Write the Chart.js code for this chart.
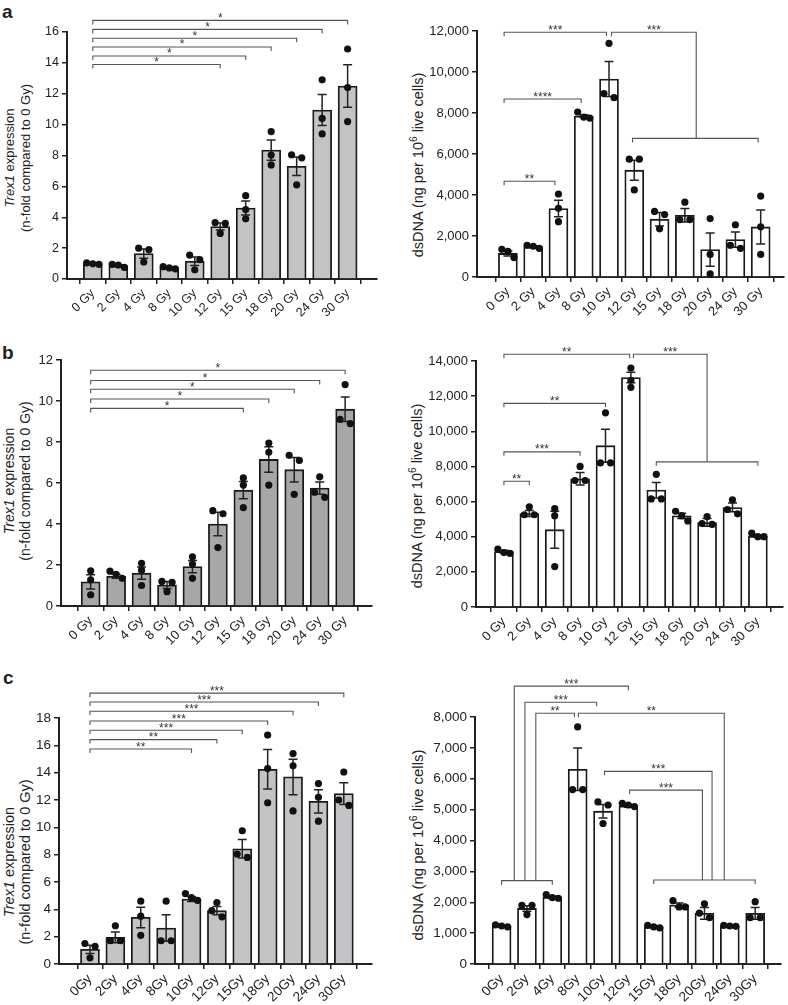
<!DOCTYPE html>
<html>
<head>
<meta charset="utf-8">
<script src="https://cdn.jsdelivr.net/npm/chart.js@4.4.1/dist/chart.umd.min.js"></script>
<style>
  body { margin: 0; background: #fff; width: 788px; height: 1005px; overflow: hidden; position: relative;
         font-family: "Liberation Sans", Arial, sans-serif; color: #222; }
  canvas { position: absolute; }
  .ytitle { position: absolute; white-space: nowrap; text-align: center;
            transform: translate(-50%, -50%) rotate(-90deg); }
  .panel { position: absolute; font-weight: bold; font-size: 19px; line-height: 19px; }
</style>
</head>
<body>
<div class="panel" style="left:2px;top:2px">a</div>
<div class="panel" style="left:2px;top:343px">b</div>
<div class="panel" style="left:3px;top:668px">c</div>

<div class="ytitle" style="left:17px;top:158px;font-size:13px;line-height:15.5px"><i>Trex1</i> expression<br>(n-fold compared to 0 Gy)</div>
<div class="ytitle" style="left:417px;top:165px;font-size:14.5px">dsDNA (ng per 10<sup style="font-size:70%">6</sup> live cells)</div>
<div class="ytitle" style="left:17px;top:481px;font-size:14px;line-height:15.5px"><i>Trex1</i> expression<br>(n-fold compared to 0 Gy)</div>
<div class="ytitle" style="left:416px;top:496px;font-size:14.5px">dsDNA (ng per 10<sup style="font-size:70%">6</sup> live cells)</div>
<div class="ytitle" style="left:17px;top:862px;font-size:14.5px;line-height:16px"><i>Trex1</i> expression<br>(n-fold compared to 0 Gy)</div>
<div class="ytitle" style="left:416px;top:845px;font-size:15px">dsDNA (ng per 10<sup style="font-size:70%">6</sup> live cells)</div>

<script>
// ----------------------------------------
// Data
// ----------------------------------------
const dosesAB = ['0 Gy', '2 Gy', '4 Gy', '8 Gy', '10 Gy', '12 Gy', '15 Gy', '18 Gy', '20 Gy', '24 Gy', '30 Gy'];
const dosesC = ['0Gy', '2Gy', '4Gy', '8Gy', '10Gy', '12Gy', '15Gy', '18Gy', '20Gy', '24Gy', '30Gy'];

// panel a
const trexA = [1.0, 0.86, 1.65, 0.72, 1.15, 3.4, 4.6, 8.35, 7.3, 10.95, 12.5];
const trexASem = [0.04, 0.07, 0.3, 0.05, 0.27, 0.22, 0.45, 0.65, 0.6, 1.0, 1.38];
const trexADots = [[1.05, 0.98, 0.95], [0.95, 0.9, 0.75], [2.0, 1.9, 1.1], [0.8, 0.72, 0.65], [1.55, 1.25, 0.6],
  [3.65, 3.6, 2.95], [5.4, 4.5, 3.9], [9.55, 8.03, 7.39], [8.05, 7.85, 6.1], [12.9, 10.4, 9.4], [14.9, 12.4, 10.2]];
const dnaA = [1150, 1480, 3340, 7850, 9660, 5210, 2820, 3010, 1335, 1824, 2443];
const dnaASem = [120, 50, 400, 60, 850, 490, 330, 330, 810, 370, 830];
const dnaADots = [[1350, 1250, 950], [1550, 1500, 1400], [4050, 3350, 2700], [8050, 7800, 7750], [11400, 8950, 8750],
  [5750, 5750, 4250], [3200, 3050, 2350], [3650, 2800, 2800], [2850, 1100, 150], [2550, 1550, 1400], [3950, 2450, 1100]];

// panel b
const trexB = [1.18, 1.45, 1.6, 1.02, 1.92, 4.0, 5.65, 7.15, 6.65, 5.75, 9.6];
const trexBSem = [0.35, 0.1, 0.3, 0.17, 0.3, 0.57, 0.42, 0.62, 0.6, 0.3, 0.6];
const trexBDots = [[1.72, 1.27, 0.55], [1.7, 1.55, 1.35], [2.08, 1.75, 1.0], [1.2, 1.15, 0.7], [2.4, 2.05, 1.35],
  [4.65, 4.5, 2.85], [6.25, 5.9, 4.8], [7.95, 7.5, 5.9], [7.35, 7.1, 5.45], [6.3, 5.55, 5.3], [10.8, 9.1, 8.9]];
const dnaB = [3150, 5320, 4400, 7300, 9180, 13060, 6650, 5190, 4810, 5665, 4030];
const dnaBSem = [80, 170, 1050, 350, 940, 300, 440, 150, 220, 250, 60];
const dnaBDots = [[3300, 3100, 3050], [5700, 5250, 5250], [5600, 5200, 2300], [8000, 7200, 7200], [11050, 8200, 8200],
  [13600, 12900, 12500], [7550, 6150, 6150], [5450, 5200, 4900], [5150, 4750, 4700], [6100, 5550, 5300], [4200, 4000, 4000]];

// panel c
const trexC = [1.07, 1.95, 3.41, 2.63, 4.75, 3.9, 8.43, 14.25, 13.69, 11.9, 12.47];
const trexCSem = [0.3, 0.4, 0.75, 0.97, 0.17, 0.3, 0.68, 1.45, 1.3, 0.85, 0.8];
const trexCDots = [[1.5, 1.3, 0.45], [2.8, 1.7, 1.7], [4.6, 3.5, 2.1], [4.6, 1.7, 1.7], [5.15, 4.85, 4.65],
  [4.5, 3.9, 3.45], [9.75, 8.05, 7.8], [16.75, 14.3, 11.8], [15.4, 14.5, 11.2], [13.2, 12.2, 10.45], [14.05, 12.0, 11.6]];
const dnaC = [1230, 1800, 2160, 6307, 4950, 5120, 1207, 1908, 1640, 1229, 1640];
const dnaCSem = [25, 90, 40, 690, 220, 40, 30, 70, 190, 15, 190];
const dnaCDots = [[1270, 1230, 1200], [1900, 1900, 1600], [2250, 2150, 2130], [7680, 5650, 5650], [5250, 5150, 4550],
  [5200, 5150, 5100], [1250, 1200, 1170], [2050, 1850, 1850], [1950, 1650, 1500], [1250, 1230, 1220], [2020, 1500, 1500]];

// ----------------------------------------
// Significance brackets (x = dose index, y = value)
// ----------------------------------------
const span = (a, b, y, s) => ({ p: [[a, y], [b, y]], t: [1, 1], s });

const trexABrackets = [
  span(0, 5, 13.89, '*'), span(0, 6, 14.45, '*'), span(0, 7, 15.03, '*'),
  span(0, 8, 15.6, '*'), span(0, 9, 16.17, '*'), span(0, 10, 16.75, '*')
];
const dnaABrackets = [
  span(-0.15, 3.9, 11940, '***'),
  { p: [[4.1, 11940], [7.45, 11940], [7.45, 6760]], t: [1, 0], s: '***' },
  span(4.93, 9.9, 6760, ''),
  span(-0.15, 2.9, 8680, '****'),
  span(-0.15, 1.86, 4670, '**')
];
const trexBBrackets = [
  span(0, 6, 9.64, '*'), span(0, 7, 10.1, '*'), span(0, 8, 10.57, '*'),
  span(0, 9, 11.0, '*'), span(0, 10, 11.5, '*')
];
const dnaBBrackets = [
  span(0, 4.95, 14380, '**'),
  { p: [[5.1, 14380], [8, 14380], [8, 8260]], t: [1, 0], s: '***' },
  span(6, 10, 8260, ''),
  span(0, 4, 11590, '**'),
  span(0, 3, 8830, '***'),
  span(0, 1, 7160, '**')
];
const trexCBrackets = [
  span(0, 4, 15.73, '**'), span(0, 5, 16.42, '**'), span(0, 6, 17.1, '***'),
  span(0, 7, 17.78, '***'), span(0, 8, 18.49, '***'), span(0, 9, 19.17, '***'), span(0, 10, 19.82, '***')
];
const dnaCBrackets = [
  span(0, 2, 2700, ''),
  span(6, 10, 2720, ''),
  { p: [[0.5, 2700], [0.5, 9000], [5, 9000]], t: [0, 1], s: '***' },
  { p: [[0.92, 2700], [0.92, 8480], [3.75, 8480]], t: [0, 1], s: '***' },
  { p: [[1.35, 2700], [1.35, 8120], [2.87, 8120]], t: [0, 1], s: '**' },
  { p: [[3.03, 8120], [8.78, 8120], [8.78, 2720]], t: [1, 0], s: '**' },
  { p: [[4.06, 6240], [8.3, 6240], [8.3, 2720]], t: [1, 0], s: '***' },
  { p: [[5.05, 5630], [7.92, 5630], [7.92, 2720]], t: [1, 0], s: '***' }
];

// ----------------------------------------
// Helpers
// ----------------------------------------
const FONT = '"Liberation Sans", Arial, sans-serif';

// spread replicate dots that would overlap, like a column scatter
function spreadDots(groups, tol) {
  const out = [];
  groups.forEach((vals, i) => {
    const sorted = vals.slice().sort((a, b) => b - a);
    let cluster = [sorted[0]];
    const flush = () => {
      const n = cluster.length;
      const step = n === 2 ? 0.4 : 0.24;
      cluster.forEach((v, k) => out.push({ x: i + (k - (n - 1) / 2) * step, y: v }));
    };
    for (let k = 1; k < sorted.length; k++) {
      if (cluster[cluster.length - 1] - sorted[k] < tol) cluster.push(sorted[k]);
      else { flush(); cluster = [sorted[k]]; }
    }
    flush();
  });
  return out;
}

function marksPlugin(means, sems, brackets) {
  return {
    id: 'marks',
    afterDatasetDraw(chart, args) {
      if (args.index !== 1) return;
      const { x, y } = chart.scales;
      const ctx = chart.ctx;
      ctx.save();
      ctx.strokeStyle = '#222';
      ctx.lineWidth = 1.5;
      means.forEach((m, i) => {
        const px = x.getPixelForValue(i);
        const top = y.getPixelForValue(m + sems[i]);
        const bot = y.getPixelForValue(Math.max(m - sems[i], 0));
        ctx.beginPath();
        ctx.moveTo(px, top); ctx.lineTo(px, bot);
        ctx.moveTo(px - 4.5, top); ctx.lineTo(px + 4.5, top);
        ctx.moveTo(px - 4.5, bot); ctx.lineTo(px + 4.5, bot);
        ctx.stroke();
      });
      ctx.restore();
    },
    afterDraw(chart) {
      const { x, y } = chart.scales;
      const ctx = chart.ctx;
      ctx.save();
      ctx.strokeStyle = '#555';
      ctx.lineWidth = 1.1;
      ctx.fillStyle = '#333';
      ctx.font = '12px ' + FONT;
      ctx.textAlign = 'center';
      brackets.forEach(b => {
        const pts = b.p.map(([vx, vy]) => [x.getPixelForValue(vx), y.getPixelForValue(vy)]);
        ctx.beginPath();
        if (b.t[0]) { ctx.moveTo(pts[0][0], pts[0][1] + 4); ctx.lineTo(pts[0][0], pts[0][1]); }
        else ctx.moveTo(pts[0][0], pts[0][1]);
        pts.slice(1).forEach(p => ctx.lineTo(p[0], p[1]));
        const last = pts[pts.length - 1];
        if (b.t[1]) ctx.lineTo(last[0], last[1] + 4);
        ctx.stroke();
        if (!b.s) return;
        let best = null;
        for (let k = 1; k < pts.length; k++) {
          if (Math.abs(pts[k][1] - pts[k - 1][1]) < 0.5) {
            const len = Math.abs(pts[k][0] - pts[k - 1][0]);
            if (!best || len > best.len) best = { len, mx: (pts[k][0] + pts[k - 1][0]) / 2, my: pts[k][1] };
          }
        }
        if (best) ctx.fillText(b.s, best.mx, best.my + 1.5);
      });
      ctx.restore();
    }
  };
}

// box = chart area in page pixels
function drawPanel(box, cfg) {
  const yw = 56, xh = 58, padTop = 60, padRight = 24;
  const canvas = document.createElement('canvas');
  canvas.width = box.R - box.L + yw + padRight;
  canvas.height = box.B - box.T + padTop + xh;
  canvas.style.left = (box.L - yw) + 'px';
  canvas.style.top = (box.T - padTop) + 'px';
  document.body.appendChild(canvas);

  const axisGrid = { drawOnChartArea: false, drawTicks: true, tickLength: 5, color: '#222', lineWidth: 1.5 };
  const axisBorder = { display: true, color: '#222', width: 2 };
  const tickFont = { family: FONT, size: cfg.fontSize };

  new Chart(canvas.getContext('2d'), {
    type: 'bar',
    data: {
      datasets: [
        {
          type: 'scatter',
          data: spreadDots(cfg.dots, cfg.yMax * 0.027),
          pointRadius: 3.6,
          pointBackgroundColor: '#111',
          pointBorderWidth: 0,
          showLine: false,
          clip: false
        },
        {
          type: 'bar',
          data: cfg.means.map((v, i) => ({ x: i, y: v })),
          backgroundColor: cfg.barColor,
          borderColor: '#1a1a1a',
          borderWidth: 1.8,
          barThickness: 19,
          clip: false
        }
      ]
    },
    options: {
      responsive: false,
      animation: false,
      events: [],
      layout: { padding: { top: padTop, right: padRight, left: 0, bottom: 0 } },
      plugins: { legend: { display: false }, tooltip: { enabled: false } },
      scales: {
        x: {
          type: 'linear',
          min: cfg.xMin,
          max: cfg.xMax,
          afterBuildTicks: s => { s.ticks = cfg.labels.map((_, i) => ({ value: i })); },
          afterFit: s => { s.height = xh; },
          ticks: {
            callback: v => cfg.labels[v],
            autoSkip: false,
            minRotation: 45,
            maxRotation: 45,
            padding: 2,
            color: '#222',
            font: tickFont
          },
          grid: axisGrid,
          border: axisBorder
        },
        y: {
          min: 0,
          max: cfg.yMax,
          afterFit: s => { s.width = yw; },
          ticks: {
            stepSize: cfg.yStep,
            callback: v => v.toLocaleString('en-US'),
            padding: 3,
            color: '#222',
            font: tickFont
          },
          grid: axisGrid,
          border: axisBorder
        }
      }
    },
    plugins: [marksPlugin(cfg.means, cfg.sems, cfg.brackets)]
  });
}

// ----------------------------------------
// Draw the six panels
// ----------------------------------------
drawPanel({ L: 67, R: 377, T: 32, B: 279 }, {
  labels: dosesAB, means: trexA, sems: trexASem, dots: trexADots, brackets: trexABrackets,
  yMax: 16, yStep: 2, xMin: -0.46, xMax: 10.6, barColor: '#c3c3c5', fontSize: 12.5
});
drawPanel({ L: 477, R: 784, T: 31, B: 277 }, {
  labels: dosesAB, means: dnaA, sems: dnaASem, dots: dnaADots, brackets: dnaABrackets,
  yMax: 12000, yStep: 2000, xMin: -0.67, xMax: 10.37, barColor: '#ffffff', fontSize: 13
});
drawPanel({ L: 61, R: 372, T: 360, B: 606 }, {
  labels: dosesAB, means: trexB, sems: trexBSem, dots: trexBDots, brackets: trexBBrackets,
  yMax: 12, yStep: 2, xMin: -0.61, xMax: 10.5, barColor: '#a7a7a9', fontSize: 13
});
drawPanel({ L: 476, R: 783, T: 361, B: 607 }, {
  labels: dosesAB, means: dnaB, sems: dnaBSem, dots: dnaBDots, brackets: dnaBBrackets,
  yMax: 14000, yStep: 2000, xMin: -0.55, xMax: 10.44, barColor: '#ffffff', fontSize: 13
});
drawPanel({ L: 59, R: 372, T: 718, B: 964 }, {
  labels: dosesC, means: trexC, sems: trexCSem, dots: trexCDots, brackets: trexCBrackets,
  yMax: 18, yStep: 2, xMin: -0.66, xMax: 10.55, barColor: '#c4c4c6', fontSize: 13.5
});
drawPanel({ L: 475, R: 781, T: 717, B: 964 }, {
  labels: dosesC, means: dnaC, sems: dnaCSem, dots: dnaCDots, brackets: dnaCBrackets,
  yMax: 8000, yStep: 1000, xMin: -0.5, xMax: 10.47, barColor: '#ffffff', fontSize: 13.5
});
</script>
</body>
</html>
